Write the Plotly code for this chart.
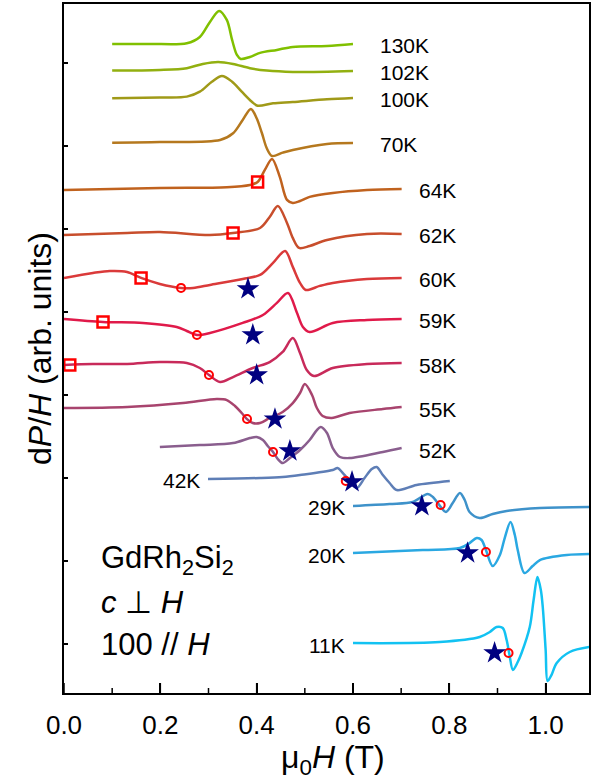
import plotly.graph_objects as go

# ---------------- data (field in T, signal in arb. units) ----------------
temps = ["130K", "102K", "100K", "70K", "64K", "62K", "60K", "59K", "58K",
         "55K", "52K", "42K", "29K", "20K", "11K"]
offsets = [7.229, 6.904, 6.578, 6.036, 5.470, 4.928, 4.410, 3.916, 3.361,
           2.843, 2.373, 1.988, 1.663, 1.096, 0.012]

x_130K = [0.100, 0.178, 0.255, 0.282, 0.303, 0.322, 0.338, 0.349, 0.359, 0.367, 0.386, 0.407, 0.442, 0.475, 0.546, 0.600]
y_130K = [0.0, 0.0, 0.008, 0.084, 0.265, 0.398, 0.289, 0.048, -0.133, -0.181, -0.157, -0.108, -0.072, -0.036, -0.024, 0.0]

x_102K = [0.100, 0.199, 0.255, 0.288, 0.320, 0.351, 0.386, 0.421, 0.475, 0.600]
y_102K = [0.004, 0.012, 0.033, 0.084, 0.108, 0.084, 0.033, 0.004, -0.012, 0.0]

x_100K = [0.100, 0.199, 0.255, 0.282, 0.307, 0.328, 0.349, 0.369, 0.390, 0.402, 0.434, 0.475, 0.546, 0.600]
y_100K = [-0.004, 0.006, 0.016, 0.076, 0.196, 0.265, 0.196, 0.076, -0.045, -0.093, -0.064, -0.048, -0.016, 0.0]

x_70K = [0.100, 0.199, 0.324, 0.351, 0.371, 0.388, 0.400, 0.411, 0.421, 0.432, 0.454, 0.475, 0.546, 0.600]
y_70K = [0.004, 0.012, 0.036, 0.117, 0.277, 0.410, 0.298, 0.117, -0.064, -0.157, -0.117, -0.084, -0.012, 0.0]

x_64K = [0.0, 0.199, 0.338, 0.386, 0.402, 0.417, 0.432, 0.448, 0.463, 0.475, 0.490, 0.510, 0.558, 0.629, 0.701]
y_64K = [0.0, 0.024, 0.033, 0.060, 0.096, 0.241, 0.373, 0.157, -0.120, -0.157, -0.133, -0.084, -0.036, 0.0, 0.012]

x_62K = [0.0, 0.131, 0.199, 0.303, 0.351, 0.407, 0.427, 0.444, 0.463, 0.475, 0.488, 0.510, 0.546, 0.629, 0.701]
y_62K = [0.0, 0.024, 0.036, 0.0, 0.024, 0.084, 0.217, 0.349, 0.145, -0.036, -0.157, -0.133, -0.060, 0.012, 0.012]

x_60K = [0.0, 0.060, 0.095, 0.131, 0.160, 0.199, 0.243, 0.268, 0.303, 0.371, 0.407, 0.434, 0.459, 0.475, 0.490, 0.502, 0.531, 0.558, 0.629, 0.701]
y_60K = [0.0, 0.060, 0.084, 0.072, 0.0, -0.072, -0.120, -0.120, -0.084, -0.012, 0.036, 0.181, 0.325, 0.133, -0.060, -0.145, -0.096, -0.060, -0.012, 0.0]

x_59K = [0.0, 0.081, 0.164, 0.234, 0.255, 0.276, 0.303, 0.371, 0.413, 0.442, 0.465, 0.483, 0.496, 0.510, 0.558, 0.629, 0.701]
y_59K = [0.0, -0.036, -0.048, -0.096, -0.145, -0.193, -0.169, -0.048, 0.048, 0.193, 0.313, 0.084, -0.096, -0.157, -0.048, -0.012, 0.0]

x_58K = [0.0, 0.060, 0.131, 0.199, 0.255, 0.282, 0.301, 0.324, 0.351, 0.392, 0.427, 0.454, 0.475, 0.490, 0.504, 0.519, 0.558, 0.629, 0.701]
y_58K = [0.0, 0.012, 0.012, 0.036, 0.024, -0.036, -0.120, -0.205, -0.145, -0.036, 0.036, 0.157, 0.325, 0.145, -0.060, -0.133, -0.036, 0.012, 0.024]

x_55K = [0.0, 0.131, 0.247, 0.317, 0.338, 0.355, 0.369, 0.380, 0.392, 0.407, 0.427, 0.454, 0.475, 0.490, 0.500, 0.515, 0.525, 0.537, 0.556, 0.593, 0.662, 0.701]
y_55K = [0.0, 0.012, 0.060, 0.108, 0.096, 0.024, -0.060, -0.133, -0.181, -0.181, -0.120, -0.048, 0.060, 0.181, 0.289, 0.157, 0.0, -0.096, -0.120, -0.060, -0.012, 0.012]

x_52K = [0.199, 0.282, 0.351, 0.386, 0.400, 0.413, 0.423, 0.434, 0.444, 0.454, 0.469, 0.490, 0.510, 0.525, 0.533, 0.546, 0.558, 0.573, 0.593, 0.662, 0.701]
y_52K = [0.0, 0.024, 0.048, 0.108, 0.120, 0.084, 0.012, -0.060, -0.145, -0.193, -0.133, -0.036, 0.084, 0.205, 0.241, 0.169, -0.012, -0.120, -0.133, -0.060, -0.012]

x_42K = [0.299, 0.407, 0.454, 0.490, 0.558, 0.568, 0.579, 0.598, 0.608, 0.624, 0.639, 0.649, 0.662, 0.676, 0.691, 0.732, 0.801]
y_42K = [0.0, 0.012, 0.024, 0.048, 0.108, 0.133, 0.072, -0.048, -0.108, 0.012, 0.120, 0.145, 0.048, -0.048, -0.133, -0.072, -0.024]

x_29K = [0.600, 0.676, 0.724, 0.755, 0.766, 0.776, 0.793, 0.807, 0.822, 0.832, 0.842, 0.863, 0.890, 0.919, 0.988, 1.091]
y_29K = [0.0, 0.024, 0.048, 0.145, 0.108, 0.036, -0.072, 0.036, 0.157, 0.072, -0.072, -0.145, -0.096, -0.060, -0.024, -0.012]

x_20K = [0.600, 0.745, 0.822, 0.842, 0.857, 0.867, 0.876, 0.890, 0.905, 0.915, 0.927, 0.936, 0.942, 0.956, 0.973, 0.988, 1.044, 1.091]
y_20K = [0.0, 0.036, 0.060, 0.120, 0.181, 0.157, 0.036, -0.157, -0.024, 0.181, 0.373, 0.217, 0.036, -0.241, -0.157, -0.084, -0.024, -0.012]

x_11K = [0.600, 0.780, 0.863, 0.884, 0.898, 0.911, 0.919, 0.925, 0.932, 0.942, 0.950, 0.967, 0.975, 0.983, 0.990, 0.994, 1.000, 1.004, 1.012, 1.023, 1.050, 1.091]
y_11K = [0.0, 0.012, 0.072, 0.133, 0.193, 0.181, 0.036, -0.145, -0.325, -0.229, -0.120, 0.193, 0.518, 0.795, 0.639, 0.434, -0.084, -0.458, -0.386, -0.241, -0.108, -0.048]

# markers: squares, open circles, stars (field, signal relative to the curve offset)
square_temps = ["64K", "62K", "60K", "59K", "58K"]
square_fields = [0.402, 0.351, 0.160, 0.081, 0.012]
square_signal = [0.096, 0.024, 0.0, -0.036, 0.0]

circle_temps = ["60K", "59K", "58K", "55K", "52K", "42K", "29K", "20K", "11K"]
circle_fields = [0.243, 0.276, 0.301, 0.380, 0.434, 0.585, 0.782, 0.876, 0.923]
circle_signal = [-0.120, -0.193, -0.120, -0.133, -0.060, -0.024, 0.012, 0.012, -0.120]

star_temps = ["60K", "59K", "58K", "55K", "52K", "42K", "29K", "20K", "11K"]
star_fields = [0.382, 0.392, 0.400, 0.438, 0.469, 0.598, 0.743, 0.838, 0.894]
star_signal = [-0.133, -0.193, -0.120, -0.133, -0.048, -0.036, 0.0, 0.0, -0.120]

# x tick values
major_ticks = [0.0, 0.2, 0.4, 0.6, 0.8, 1.0]
minor_ticks = [0.1, 0.3, 0.5, 0.7, 0.9]

# ---------------- styling ----------------
colors = ["#80c000", "#92b010", "#a09a18", "#b5781e", "#c0621e", "#c84e2c", "#da3a3a",
          "#e01a4a", "#c82a5a", "#a8446e", "#8a5e8e", "#5e7eb6", "#3e92ca", "#2aa8e2", "#12c2f2"]
label_side = ["right"] * 11 + ["left"] * 4
label_gap = [25, 25, 25, 25, 15, 15, 15, 15, 15, 15, 15, 6, 6, 6, 6]

FONT = "Arial, Liberation Sans, sans-serif"
Y_RANGE = [-0.59, 7.71]
PLOT_H = 779 - 4 - 86  # plot-area height in px
units_per_px = (Y_RANGE[1] - Y_RANGE[0]) / PLOT_H

curves_x = [x_130K, x_102K, x_100K, x_70K, x_64K, x_62K, x_60K, x_59K, x_58K,
            x_55K, x_52K, x_42K, x_29K, x_20K, x_11K]
curves_y = [y_130K, y_102K, y_100K, y_70K, y_64K, y_62K, y_60K, y_59K, y_58K,
            y_55K, y_52K, y_42K, y_29K, y_20K, y_11K]

fig = go.Figure()

# inside x ticks drawn as short segments rising from the bottom axis at the tick values
tx, ty = [], []
for v in major_ticks:
    tx += [v, v, None]
    ty += [Y_RANGE[0], Y_RANGE[0] + 10 * units_per_px, None]
for v in minor_ticks:
    tx += [v, v, None]
    ty += [Y_RANGE[0], Y_RANGE[0] + 5 * units_per_px, None]
fig.add_trace(go.Scatter(x=tx, y=ty, mode="lines", showlegend=False, hoverinfo="skip",
                         cliponaxis=False, line=dict(color="black", width=1.5)))

off = dict(zip(temps, offsets))
annotations = []
for i, t in enumerate(temps):
    xs = curves_x[i]
    ys = [offsets[i] + v for v in curves_y[i]]
    fig.add_trace(go.Scatter(x=xs, y=ys, mode="lines", showlegend=False, hoverinfo="skip",
                             line=dict(color=colors[i], width=2.5, shape="spline", smoothing=0.9)))
    if label_side[i] == "right":
        annotations.append(dict(x=xs[-1], y=ys[-1], text=t, showarrow=False, xanchor="left",
                                yanchor="middle", xshift=label_gap[i], yshift=-2,
                                font=dict(size=21, color="black", family=FONT)))
    else:
        annotations.append(dict(x=xs[0], y=ys[0], text=t, showarrow=False, xanchor="right",
                                yanchor="middle", xshift=-label_gap[i], yshift=-2,
                                font=dict(size=21, color="black", family=FONT)))

fig.add_trace(go.Scatter(x=square_fields, y=[off[t] + s for t, s in zip(square_temps, square_signal)],
                         mode="markers", showlegend=False, hoverinfo="skip", cliponaxis=False,
                         marker=dict(symbol="square-open", size=11, color="#ff0000",
                                     line=dict(width=2.5, color="#ff0000"))))
fig.add_trace(go.Scatter(x=circle_fields, y=[off[t] + s for t, s in zip(circle_temps, circle_signal)],
                         mode="markers", showlegend=False, hoverinfo="skip", cliponaxis=False,
                         marker=dict(symbol="circle-open", size=8, color="#ff0000",
                                     line=dict(width=2, color="#ff0000"))))
fig.add_trace(go.Scatter(x=star_fields, y=[off[t] + s for t, s in zip(star_temps, star_signal)],
                         mode="markers", showlegend=False, hoverinfo="skip", cliponaxis=False,
                         marker=dict(symbol="star", size=17, color="#000080",
                                     line=dict(width=0))))

for txt, yy in [("GdRh<sub>2</sub>Si<sub>2</sub>", 0.193),
                ("<i>c</i> \u22a5 <i>H</i>", 0.131),
                ("100 // <i>H</i>", 0.071)]:
    annotations.append(dict(x=0.066, y=yy, xref="paper", yref="paper", text=txt, showarrow=False,
                            xanchor="left", yanchor="middle",
                            font=dict(size=31, color="black", family=FONT)))

# x-axis title as a paper annotation (placed just under the tick labels)
annotations.append(dict(x=0.513, y=-0.097, xref="paper", yref="paper",
                        text="\u03bc<sub>0</sub><i>H</i> (T)", showarrow=False,
                        xanchor="center", yanchor="middle",
                        font=dict(size=32, color="black", family=FONT)))

fig.update_layout(
    width=601, height=779,
    margin=dict(l=64, r=12, t=4, b=86),
    paper_bgcolor="white", plot_bgcolor="white",
    font=dict(family=FONT, color="black"),
    annotations=annotations,
    xaxis=dict(range=[0, 1.09], tickmode="array", tickvals=major_ticks,
               ticktext=[f"{v:.1f}" for v in major_ticks], automargin=False,
               ticks="inside", ticklen=10, tickwidth=1.5, tickcolor="black",
               showline=True, linewidth=2, linecolor="black", mirror=True,
               showgrid=False, zeroline=False,
               tickfont=dict(size=26, family=FONT, color="black"),
               ticklabelstandoff=8),
    yaxis=dict(range=Y_RANGE, tickvals=list(range(8)), showticklabels=False, automargin=False,
               ticks="inside", ticklen=4, tickwidth=1.5, tickcolor="black",
               showline=True, linewidth=2, linecolor="black", mirror=True,
               showgrid=False, zeroline=False,
               title=dict(text="d<i>P</i>/<i>H</i> (arb. units)", font=dict(size=32, family=FONT),
                          standoff=1)),
)

fig.write_html("out.html", config={"displayModeBar": False},
               post_script="document.body.style.margin='0px';")
